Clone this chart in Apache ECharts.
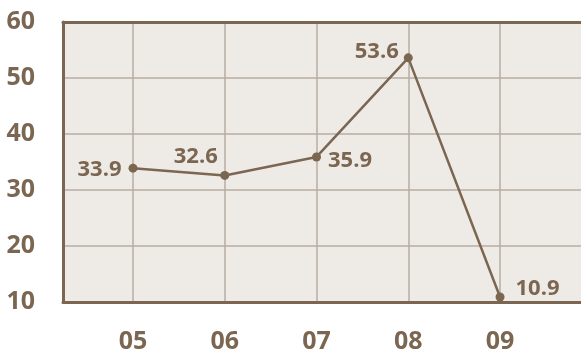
<!DOCTYPE html>
<html>
<head>
<meta charset="utf-8">
<script src="https://cdn.jsdelivr.net/npm/echarts@6/dist/echarts.min.js"></script>
<style>
  html, body { margin: 0; padding: 0; background: #ffffff; }
  #chart { width: 581px; height: 350px; }
</style>
</head>
<body>
<div id="chart"></div>
<script>
// Year labels and the yearly values of the series
const categories = ['05', '06', '07', '08', '09'];
const values = [33.9, 32.6, 35.9, 53.6, 10.9];
const yTicks = [10, 20, 30, 40, 50, 60];

// Where each value label sits relative to its point
const labelPlacement = [
  { position: 'left', offset: [-2, 2] },
  { position: 'top', offset: [-29, 2] },
  { position: 'right', offset: [2, 4] },
  { position: 'left', offset: [0, -6] },
  { position: 'right', offset: [6, -8] }
];

const brown = '#7b6651';
const gridLine = '#b7ada2';
const fontFamily = '"Open Sans", sans-serif';

// Categories are placed on a numeric axis (05 -> 5, ...) so that the
// plot area can extend a little beyond the first and last year.
const xOf = i => i + 5;
const xMin = 4.237;
const xMax = 9.915;

const seriesData = values.map((v, i) => ({
  value: [xOf(i), v],
  label: labelPlacement[i]
}));

const chart = echarts.init(document.getElementById('chart'), null, { renderer: 'canvas' });
chart.setOption({
  animation: false,
  grid: {
    left: 63, right: -3, top: 22, bottom: 48,
    containLabel: false, outerBoundsMode: 'none',
    show: true, backgroundColor: '#eeebe7', borderWidth: 0
  },
  xAxis: [
    {
      type: 'value', min: xMin, max: xMax,
      axisLine: { show: true, onZero: false, lineStyle: { color: brown, width: 3 } },
      axisTick: { show: false },
      splitLine: { show: true, lineStyle: { color: gridLine, width: 1.5 } },
      axisLabel: {
        margin: 27, color: brown, fontFamily, fontWeight: 'bold', fontSize: 25,
        showMinLabel: true, showMaxLabel: true,
        formatter: v => {
          const i = Math.round(v) - 5;
          return Math.abs(v - Math.round(v)) < 1e-6 && categories[i] ? categories[i] : '';
        }
      }
    },
    {
      type: 'value', position: 'top', min: xMin, max: xMax,
      axisLine: { show: true, onZero: false, lineStyle: { color: brown, width: 3 } },
      axisTick: { show: false }, axisLabel: { show: false }, splitLine: { show: false }
    }
  ],
  yAxis: {
    type: 'value', min: yTicks[0], max: yTicks[yTicks.length - 1], interval: 10,
    axisLine: { show: true, lineStyle: { color: brown, width: 3 } },
    axisTick: { show: false },
    splitLine: { show: true, lineStyle: { color: gridLine, width: 1.5 } },
    axisLabel: {
      margin: 28, color: brown, fontFamily, fontWeight: 'bold', fontSize: 25
    }
  },
  series: [{
    type: 'line',
    data: seriesData,
    symbol: 'circle', symbolSize: 9,
    itemStyle: { color: brown },
    lineStyle: { color: brown, width: 2.5 },
    label: {
      show: true, color: brown, fontFamily, fontWeight: 'bold', fontSize: 22,
      formatter: p => p.value[1].toFixed(1)
    }
  }]
});
</script>
</body>
</html>
